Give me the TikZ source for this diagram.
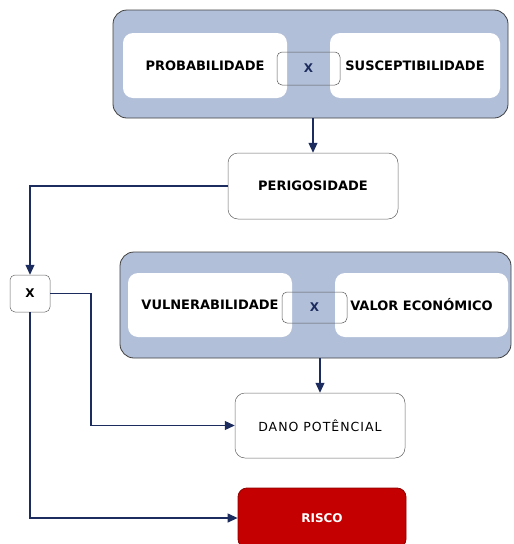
\documentclass[tikz,border=0pt]{standalone}
\usepackage{fontspec}
\setmainfont{DejaVu Sans}
\usetikzlibrary{arrows.meta,positioning,calc}
\definecolor{navy}{RGB}{28,44,94}
\definecolor{grpblue}{RGB}{178,191,216}
\definecolor{riscored}{RGB}{196,0,0}

\begin{document}
\begin{tikzpicture}[x=1pt, y=-1pt, >={Triangle[length=10pt,width=9pt]},
  grp/.style={rectangle, draw=black!75, fill=grpblue, rounded corners=14pt, line width=0.8pt, inner sep=0pt},
  factor/.style={rectangle, fill=white, rounded corners=10pt, inner sep=0pt, font=\fontsize{13}{15}\selectfont\bfseries},
  times/.style={rectangle, draw=black!65, rounded corners=5pt, inner sep=0pt, line width=0.5pt, text=navy, font=\fontsize{12}{14}\selectfont\bfseries},
  result/.style={rectangle, draw=black!60, fill=white, rounded corners=10pt, inner sep=0pt, line width=0.5pt},
  link/.style={draw=navy, line width=1.2pt}]
  \useasboundingbox (0,0) rectangle (514,544);

  % perigosidade = probabilidade x susceptibilidade
  \node[grp, minimum width=395pt, minimum height=108pt] (grpA) at (310.5,64) {};
  \node[factor, minimum width=164pt, minimum height=65pt] (prob) at (205,65.5) {PROBABILIDADE};
  \node[factor, minimum width=170pt, minimum height=65pt] (susc) at (415,65.5) {SUSCEPTIBILIDADE};
  \node[times, minimum width=63pt, minimum height=33pt] (timesA) at (308.5,68.5) {X};
  \node[result, minimum width=170pt, minimum height=66pt, font=\fontsize{13}{15}\selectfont\bfseries] (perig) at (313,186) {PERIGOSIDADE};

  % dano potencial = vulnerabilidade x valor economico
  \node[grp, minimum width=391pt, minimum height=106pt] (grpB) at (315.5,305) {};
  \node[factor, minimum width=164pt, minimum height=64pt] (vuln) at (210,305) {VULNERABILIDADE};
  \node[factor, minimum width=173pt, minimum height=64pt] (valor) at (421.5,305) {VALOR ECONÓMICO};
  \node[times, minimum width=65pt, minimum height=31pt] (timesB) at (314.5,307.5) {X};
  \node[result, minimum width=170pt, minimum height=65pt, font=\fontsize{12.5}{14}\selectfont\addfontfeature{LetterSpace=8}] (dano) at (320,425.5) {DANO POTÊNCIAL};

  % risco = perigosidade x dano
  \node[result, rounded corners=5pt, minimum width=40pt, minimum height=37pt, font=\fontsize{12}{14}\selectfont\bfseries] (mult) at (30,293.5) {X};
  \node[rectangle, draw=red!55!black, fill=riscored, rounded corners=9pt, line width=0.8pt, minimum width=168pt, minimum height=60pt, text=white, font=\fontsize{12}{14}\selectfont\bfseries] (risco) at (322,518) {RISCO};
  \coordinate (bend) at (91,293.5);

  % connectors
  \draw[link, ->] (perig.north |- grpA.south) -- (perig.north);
  \draw[link, ->] (dano.north |- grpB.south) -- (dano.north);
  \draw[link, ->] (perig.west) -| (mult.north);
  \draw[link, ->] (mult.east) -- (bend) |- (dano.west);
  \draw[link, ->] (mult.south) |- (risco.west);
\end{tikzpicture}
\end{document}
